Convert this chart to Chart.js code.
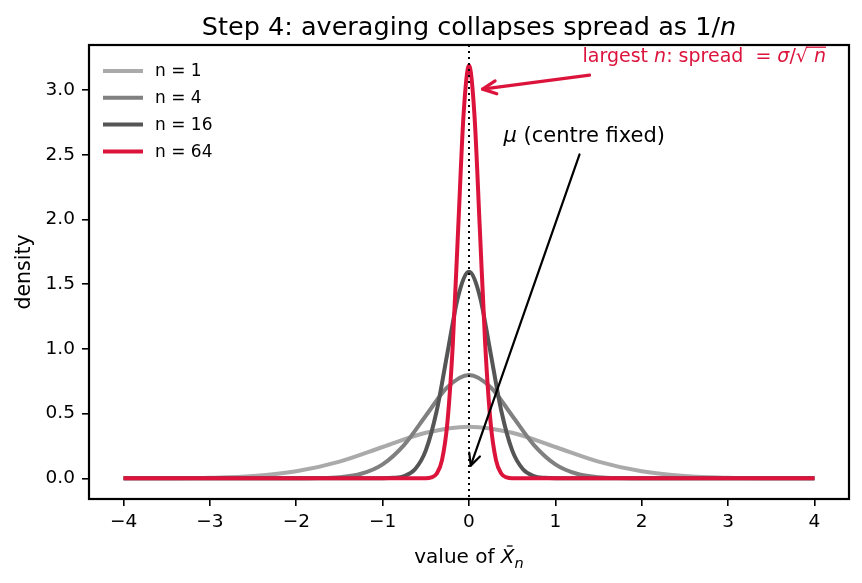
<!DOCTYPE html>
<html>
<head>
<meta charset="utf-8">
<script src="https://cdn.jsdelivr.net/npm/chart.js@4.4.1/dist/chart.umd.min.js"></script>
<style>
  html, body { margin: 0; padding: 0; background: #fff; }
  #wrap { width: 862px; height: 583px; }
</style>
</head>
<body>
<div id="wrap"><canvas id="grafico" width="862" height="583"></canvas></div>
<script>
// series labels and colours
const rotulos = ["n = 1", "n = 4", "n = 16", "n = 64"];
const cores = ["#aaaaaa", "#808080", "#555555", "#dc143c"];

// sample points (x, density)
const x1 = [-4, -3.5, -3, -2.5, -2, -1.5, -1, -0.5, 0, 0.5, 1, 1.5, 2, 2.5, 3, 3.5, 4];
const dens1 = [0.0001, 0.0009, 0.0044, 0.0175, 0.054, 0.1295, 0.242, 0.352, 0.399, 0.352, 0.242, 0.1295, 0.054, 0.0175, 0.0044, 0.0009, 0.0001];

const x4 = [-4, -2, -1.75, -1.5, -1.25, -1, -0.75, -0.5, -0.25, 0, 0.25, 0.5, 0.75, 1, 1.25, 1.5, 1.75, 2, 4];
const dens4 = [0, 0.0003, 0.0018, 0.0089, 0.035, 0.108, 0.259, 0.484, 0.704, 0.798, 0.704, 0.484, 0.259, 0.108, 0.035, 0.0089, 0.0018, 0.0003, 0];

const x16 = [-4, -1, -0.875, -0.75, -0.625, -0.5, -0.375, -0.25, -0.125, 0, 0.125, 0.25, 0.375, 0.5, 0.625, 0.75, 0.875, 1, 4];
const dens16 = [0, 0.0005, 0.0035, 0.0177, 0.07, 0.216, 0.518, 0.968, 1.408, 1.596, 1.408, 0.968, 0.518, 0.216, 0.07, 0.0177, 0.0035, 0.0005, 0];

const x64 = [-4, -0.5, -0.4375, -0.375, -0.3125, -0.25, -0.1875, -0.125, -0.0625, 0, 0.0625, 0.125, 0.1875, 0.25, 0.3125, 0.375, 0.4375, 0.5, 4];
const dens64 = [0, 0.0011, 0.007, 0.0354, 0.14, 0.432, 1.036, 1.935, 2.816, 3.191, 2.816, 1.935, 1.036, 0.432, 0.14, 0.0354, 0.007, 0.0011, 0];

// tick values
const xTicks = [-4, -3, -2, -1, 0, 1, 2, 3, 4];
const yTicks = [0, 0.5, 1, 1.5, 2, 2.5, 3];

const FONTE = "'DejaVu Sans', sans-serif";

function pontos(xs, ys) {
  return xs.map((x, i) => ({ x: x, y: ys[i] }));
}

const series = [pontos(x1, dens1), pontos(x4, dens4), pontos(x16, dens16), pontos(x64, dens64)];

// draws a run of text pieces (some italic / subscript / overlined)
function textoRico(ctx, partes, x, y, tam, alinhar, cor) {
  ctx.save();
  ctx.fillStyle = cor;
  ctx.strokeStyle = cor;
  ctx.textBaseline = "alphabetic";
  ctx.textAlign = "left";
  let total = 0;
  const larguras = partes.map(p => {
    const t = p.tam || tam;
    ctx.font = (p.it ? "italic " : "") + t + "px " + FONTE;
    const w = ctx.measureText(p.t).width + (p.extra || 0);
    total += w;
    return w;
  });
  let cx = alinhar === "center" ? x - total / 2 : x;
  partes.forEach((p, i) => {
    const t = p.tam || tam;
    ctx.font = (p.it ? "italic " : "") + t + "px " + FONTE;
    ctx.fillText(p.t, cx, y + (p.dy || 0));
    if (p.barra) {
      ctx.lineWidth = 1.3;
      ctx.beginPath();
      ctx.moveTo(cx + (p.barraX0 || 0), y + p.barra);
      ctx.lineTo(cx + larguras[i] + (p.barraX1 || 0), y + p.barra);
      ctx.stroke();
    }
    cx += larguras[i];
  });
  ctx.restore();
}

function seta(ctx, x0, y0, x1p, y1p, cor, lw, tam) {
  ctx.save();
  ctx.strokeStyle = cor;
  ctx.lineWidth = lw;
  ctx.lineCap = "round";
  ctx.lineJoin = "round";
  ctx.beginPath();
  ctx.moveTo(x0, y0);
  ctx.lineTo(x1p, y1p);
  ctx.stroke();
  const ang = Math.atan2(y1p - y0, x1p - x0);
  const a = 0.45;
  ctx.beginPath();
  ctx.moveTo(x1p - tam * Math.cos(ang - a), y1p - tam * Math.sin(ang - a));
  ctx.lineTo(x1p, y1p);
  ctx.lineTo(x1p - tam * Math.cos(ang + a), y1p - tam * Math.sin(ang + a));
  ctx.stroke();
  ctx.restore();
}

const extras = {
  id: "extras",
  afterDatasetsDraw(chart) {
    const { ctx, chartArea: ca, scales } = chart;
    const sx = scales.x, sy = scales.y;

    // dotted line at the centre
    ctx.save();
    ctx.strokeStyle = "#000";
    ctx.lineWidth = 2;
    ctx.setLineDash([2, 4]);
    const x0 = sx.getPixelForValue(0);
    ctx.beginPath();
    ctx.moveTo(x0, ca.top);
    ctx.lineTo(x0, ca.bottom);
    ctx.stroke();
    ctx.restore();

    // frame
    ctx.save();
    ctx.strokeStyle = "#000";
    ctx.lineWidth = 2.2;
    ctx.strokeRect(ca.left, ca.top, ca.right - ca.left, ca.bottom - ca.top);
    ctx.restore();

    // legend
    ctx.save();
    chart.data.datasets.forEach((ds, i) => {
      const yy = ca.top + 26 + i * 26.8;
      ctx.strokeStyle = ds.borderColor;
      ctx.lineWidth = 4;
      ctx.beginPath();
      ctx.moveTo(ca.left + 14, yy);
      ctx.lineTo(ca.left + 54, yy);
      ctx.stroke();
      ctx.fillStyle = "#000";
      ctx.font = "17px " + FONTE;
      ctx.textBaseline = "middle";
      ctx.fillText(ds.label, ca.left + 66, yy + 1);
    });
    ctx.restore();

    // annotations
    const red = "#dc143c";
    seta(ctx, sx.getPixelForValue(1.396), sy.getPixelForValue(3.117),
      sx.getPixelForValue(0.157), sy.getPixelForValue(3.009), red, 3.2, 15);
    textoRico(ctx, [
      { t: "largest " },
      { t: "n", it: true },
      { t: ": spread  = " },
      { t: "σ", it: true },
      { t: "/√" },
      { t: " n", it: true, barra: -15, barraX0: -2 }
    ], sx.getPixelForValue(1.315), sy.getPixelForValue(3.217), 19, "left", red);

    seta(ctx, sx.getPixelForValue(1.28), sy.getPixelForValue(2.504),
      sx.getPixelForValue(0.02), sy.getPixelForValue(0.098), "#000", 2.2, 13);
    textoRico(ctx, [
      { t: "μ", it: true },
      { t: " (centre fixed)" }
    ], sx.getPixelForValue(0.4), sy.getPixelForValue(2.597), 21, "left", "#000");
  },
  afterDraw(chart) {
    const { ctx, chartArea: ca } = chart;
    const meio = (ca.left + ca.right) / 2;
    // title
    textoRico(ctx, [
      { t: "Step 4: averaging collapses spread as 1/" },
      { t: "n", it: true }
    ], meio, 35, 25.5, "center", "#000");
    // x axis title
    textoRico(ctx, [
      { t: "value of " },
      { t: "X", it: true, barra: -17, barraX0: 6, barraX1: -2 },
      { t: "n", it: true, tam: 14.5, dy: 5 }
    ], meio, 563, 20, "center", "#000");
    // y axis title
    ctx.save();
    ctx.translate(30, (ca.top + ca.bottom) / 2);
    ctx.rotate(-Math.PI / 2);
    ctx.fillStyle = "#000";
    ctx.font = "20.5px " + FONTE;
    ctx.textAlign = "center";
    ctx.textBaseline = "alphabetic";
    ctx.fillText("density", 0, 0);
    ctx.restore();
  }
};

const estiloEixo = {
  grid: { display: true, drawOnChartArea: false, drawTicks: true, tickLength: 7, color: "#000", lineWidth: 1.6 },
  border: { display: false }
};

new Chart(document.getElementById("grafico"), {
  type: "line",
  data: {
    datasets: series.map((dados, i) => ({
      label: rotulos[i],
      data: dados,
      borderColor: cores[i],
      backgroundColor: cores[i],
      borderWidth: 4,
      pointRadius: 0,
      fill: false,
      cubicInterpolationMode: "monotone",
      order: 4 - i
    }))
  },
  options: {
    responsive: false,
    animation: false,
    devicePixelRatio: 1,
    layout: { padding: { top: 45, right: 13, left: 0, bottom: 0 } },
    plugins: {
      legend: { display: false },
      title: { display: false },
      tooltip: { enabled: false }
    },
    scales: {
      x: {
        type: "linear",
        min: -4.4,
        max: 4.4,
        ...estiloEixo,
        afterBuildTicks: s => { s.ticks = xTicks.map(v => ({ value: v })); },
        afterFit: s => { s.height = 84; },
        ticks: {
          color: "#000",
          font: { family: FONTE, size: 18.5 },
          padding: 5,
          maxRotation: 0,
          callback: v => String(v).replace("-", "\u2212")
        }
      },
      y: {
        type: "linear",
        min: -0.16,
        max: 3.35,
        ...estiloEixo,
        afterBuildTicks: s => { s.ticks = yTicks.map(v => ({ value: v })); },
        afterFit: s => { s.width = 89; },
        ticks: {
          color: "#000",
          font: { family: FONTE, size: 18.5 },
          padding: 7,
          callback: v => v.toFixed(1)
        }
      }
    }
  },
  plugins: [extras]
});
</script>
</body>
</html>
